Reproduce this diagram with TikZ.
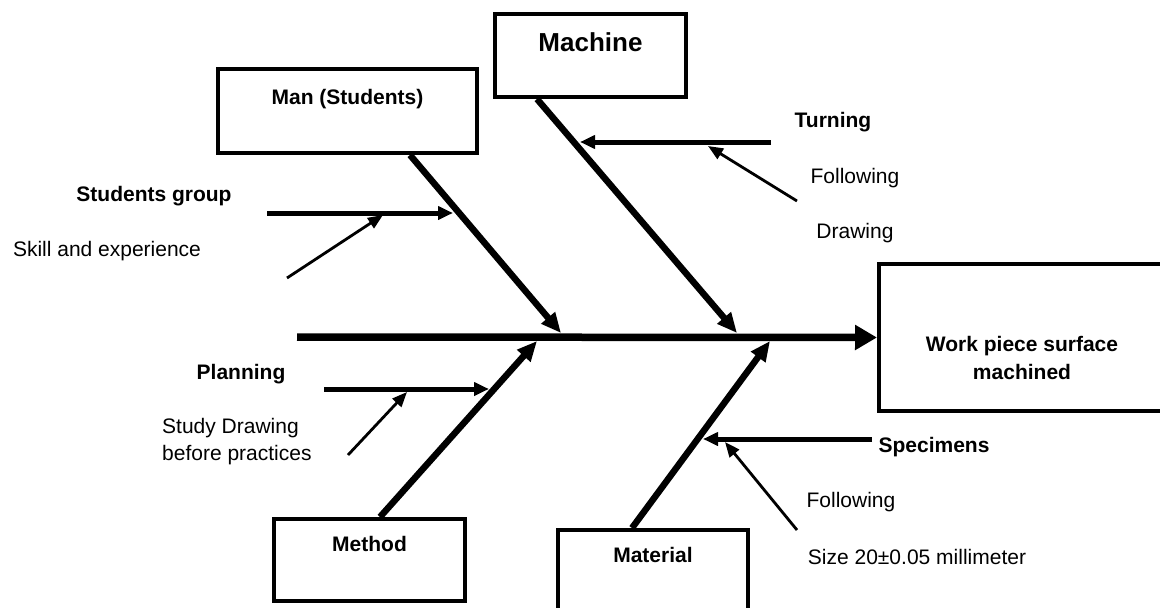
\documentclass[tikz,border=0pt]{standalone}
\usepackage{fontspec}
\setmainfont{Liberation Sans}
\usetikzlibrary{arrows.meta}

\tikzset{
  box/.style={draw, line width=4pt, inner sep=0pt},
  lbl/.style={anchor=base, inner sep=0pt, font=\fontsize{21}{27}\selectfont},
  blbl/.style={lbl, font=\fontsize{21}{28}\selectfont\bfseries},
  spine/.style={line width=7.5pt, -{Triangle[length=22pt,width=24pt]}},
  bone/.style={line width=6.5pt, -{Triangle[length=20pt,width=17pt]}},
  cause/.style={line width=5pt, -{Triangle[length=15pt,width=13pt]}},
  subcause/.style={line width=2.8pt, -{Triangle[length=15pt,width=12pt]}}
}

\begin{document}
\begin{tikzpicture}[x=1pt, y=-1pt]
  \useasboundingbox (0,0) rectangle (1160,608);
  \clip (0,0) rectangle (1160,608);

  % category boxes
  \node[box, minimum width=259pt, minimum height=84pt] (man) at (347.5,111) {};
  \node[box, minimum width=191pt, minimum height=83pt] (machine) at (590.5,55.5) {};
  \node[box, minimum width=191pt, minimum height=82pt] (method) at (369.5,560) {};
  \node[box, minimum width=190pt, minimum height=82pt] (material) at (653,571) {};
  \node[box, minimum width=286pt, minimum height=147pt] (work) at (1022,337.5) {};

  \node[blbl] (mantxt) at (347.5,104.5) {Man (Students)};
  \node[blbl, font=\fontsize{26}{30}\selectfont\bfseries] (machinetxt) at (590.5,51.3) {Machine};
  \node[blbl] (methodtxt) at (369.5,551.5) {Method};
  \node[blbl] (materialtxt) at (653,562.5) {Material};
  \node[blbl, align=center] (worktxt) at (1022,379.5) {Work piece surface\\machined};

  % spine and bones
  \coordinate (tail) at (297,337);
  \coordinate (jman) at (561,333);
  \coordinate (jmachine) at (737,333);
  \coordinate (jmethod) at (537,341);
  \coordinate (jmaterial) at (770,341);
  \draw[spine] (tail) -- (work.west);
  \draw[bone] ([xshift=62.5pt]man.south) -- (jman);
  \draw[bone] ([xshift=-53.5pt]machine.south) -- (jmachine);
  \draw[bone] ([xshift=10.5pt]method.north) -- (jmethod);
  \draw[bone] ([xshift=-21pt]material.north) -- (jmaterial);

  % causes
  \coordinate (grp0) at (267,213);    \coordinate (grp1) at (453,213);
  \coordinate (turn0) at (771,142);   \coordinate (turn1) at (580,142);
  \coordinate (plan0) at (324,389);   \coordinate (plan1) at (489,389);
  \coordinate (spec0) at (872,439);   \coordinate (spec1) at (703,439);
  \draw[cause] (grp0) -- (grp1);
  \draw[cause] (turn0) -- (turn1);
  \draw[cause] (plan0) -- (plan1);
  \draw[cause] (spec0) -- (spec1);

  % sub causes
  \coordinate (skill0) at (287,278);  \coordinate (skill1) at (383,215);
  \coordinate (foll0) at (797,201);   \coordinate (foll1) at (708,146);
  \coordinate (study0) at (348,455);  \coordinate (study1) at (407,392);
  \coordinate (size0) at (797,530);   \coordinate (size1) at (725,442);
  \draw[subcause] (skill0) -- (skill1);
  \draw[subcause] (foll0) -- (foll1);
  \draw[subcause] (study0) -- (study1);
  \draw[subcause] (size0) -- (size1);

  % labels
  \node[blbl] (grptxt) at (154,201.5) {Students group};
  \node[lbl] (skilltxt) at (107,256.5) {Skill and experience};
  \node[blbl] (turntxt) at (833,127.5) {Turning};
  \node[lbl] (folltxt) at (855,183.5) {Following};
  \node[lbl] (drawtxt) at (855,238.5) {Drawing};
  \node[blbl] (plantxt) at (241,379.5) {Planning};
  \node[lbl, anchor=base west, align=left] (studytxt) at (162,460.5) {Study Drawing\\before practices};
  \node[blbl] (spectxt) at (934,452.5) {Specimens};
  \node[lbl] (foll2txt) at (851,507.5) {Following};
  \node[lbl] (sizetxt) at (917,564.5) {Size 20±0.05 millimeter};
\end{tikzpicture}
\end{document}
